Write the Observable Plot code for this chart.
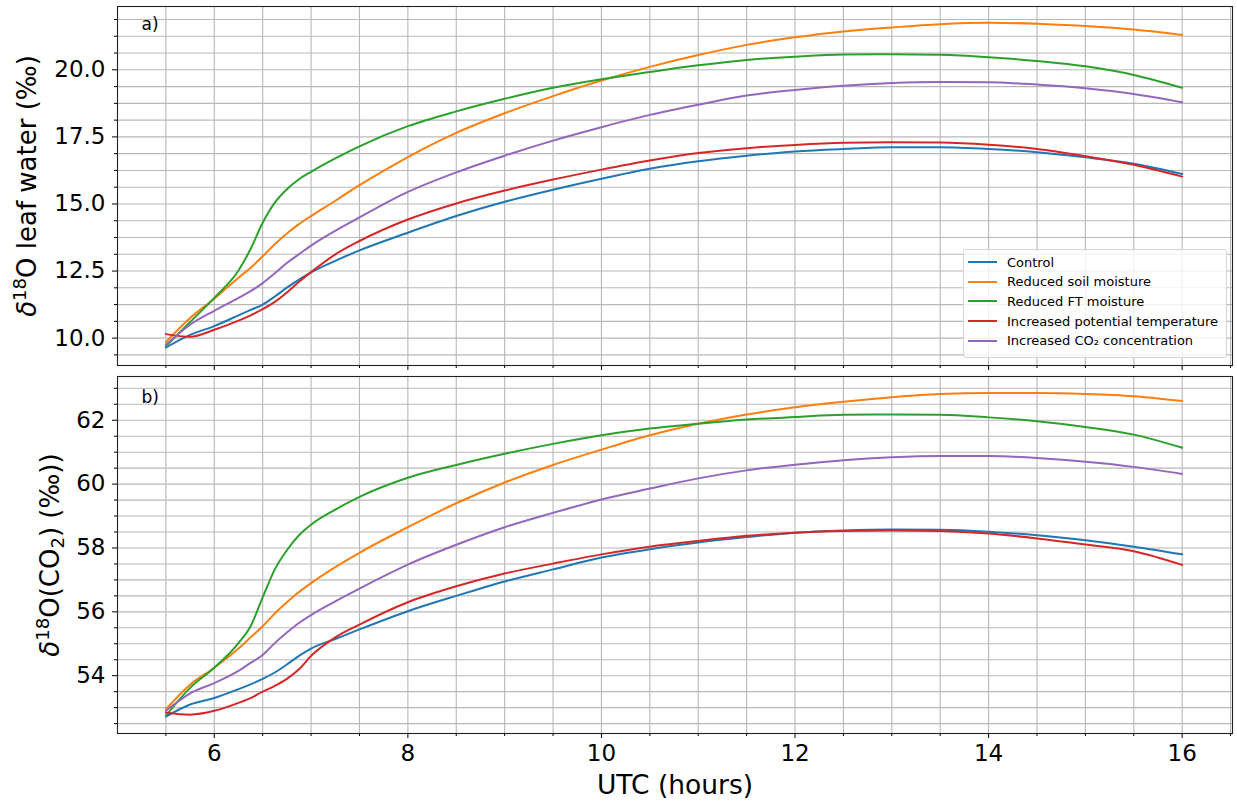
<!DOCTYPE html>
<html><head><meta charset="utf-8">
<script src="https://cdn.jsdelivr.net/npm/d3@7"></script>
<script src="https://cdn.jsdelivr.net/npm/@observablehq/plot@0.6"></script>
<style>
body{margin:0;background:#fff;}
#fig{position:relative;width:1237px;height:802px;font-family:"DejaVu Sans",sans-serif;}
#fig svg{position:absolute;left:0;}
#legend{position:absolute;left:963px;top:249px;width:262px;height:107px;border:1px solid #d5d5d5;border-radius:3px;background:rgba(255,255,255,0.8);box-sizing:content-box;}
.li{position:absolute;left:4px;height:20px;display:flex;align-items:center;font-size:13px;color:#000;white-space:nowrap;}
.li span.sw{display:inline-block;width:29px;height:2px;margin-right:10px;}
</style></head><body><div id="fig"></div>
<script>
// ---- data ----
const seriesNames = ["Control","Reduced soil moisture","Reduced FT moisture","Increased potential temperature","Increased CO\u2082 concentration"];
const seriesColors = ["#1f77b4","#ff7f0e","#2ca02c","#d62728","#9467bd"];
const hours = [5.5,5.75,6,6.25,6.375,6.5,6.625,6.75,6.875,7,7.25,7.5,8,8.5,9,9.5,10,10.5,11,11.5,12,12.5,13,13.5,14,14.5,15,15.5,16];

// panel a: d18O leaf water (permil)
const leafControl = [9.65,10.12,10.45,10.85,11.05,11.25,11.55,11.88,12.18,12.45,12.88,13.27,13.93,14.55,15.08,15.53,15.94,16.31,16.59,16.8,16.96,17.05,17.11,17.11,17.05,16.93,16.74,16.5,16.12];
const leafSoil    = [9.85,10.75,11.47,12.25,12.62,13.05,13.5,13.9,14.25,14.55,15.12,15.7,16.75,17.65,18.38,19.02,19.6,20.11,20.55,20.93,21.21,21.43,21.58,21.7,21.75,21.72,21.63,21.5,21.3];
const leafFT      = [9.7,10.6,11.5,12.52,13.32,14.3,15.05,15.55,15.92,16.2,16.7,17.15,17.9,18.45,18.92,19.33,19.65,19.92,20.17,20.37,20.49,20.57,20.58,20.56,20.47,20.33,20.13,19.81,19.33];
const leafTheta   = [10.15,10.05,10.31,10.65,10.85,11.08,11.35,11.7,12.1,12.46,13.12,13.62,14.42,15.02,15.5,15.91,16.28,16.62,16.9,17.08,17.2,17.28,17.3,17.29,17.21,17.05,16.78,16.46,16.02];
const leafCO2     = [9.75,10.5,11.02,11.5,11.75,12.05,12.42,12.8,13.13,13.45,14.0,14.5,15.45,16.18,16.8,17.36,17.86,18.32,18.7,19.04,19.25,19.41,19.51,19.55,19.54,19.45,19.31,19.1,18.79];

// panel b: d18O(CO2) (permil)
const co2Control = [52.72,53.1,53.3,53.58,53.73,53.9,54.1,54.35,54.62,54.85,55.15,55.45,56.02,56.5,56.95,57.33,57.7,57.96,58.17,58.34,58.48,58.55,58.58,58.57,58.51,58.4,58.24,58.04,57.8];
const co2Soil    = [52.95,53.72,54.25,54.85,55.2,55.55,55.95,56.3,56.62,56.9,57.4,57.85,58.65,59.4,60.05,60.6,61.08,61.53,61.89,62.18,62.41,62.58,62.72,62.82,62.85,62.85,62.82,62.75,62.6];
const co2FT      = [52.75,53.62,54.25,55.02,55.55,56.45,57.33,57.93,58.4,58.73,59.2,59.6,60.2,60.6,60.95,61.26,61.53,61.74,61.89,62.02,62.1,62.17,62.18,62.17,62.09,61.97,61.79,61.55,61.14];
const co2Theta   = [52.85,52.78,52.9,53.15,53.3,53.5,53.68,53.9,54.2,54.62,55.2,55.6,56.3,56.8,57.2,57.51,57.8,58.04,58.22,58.38,58.48,58.53,58.55,58.53,58.45,58.3,58.11,57.9,57.47];
const co2CO2     = [52.9,53.45,53.77,54.15,54.4,54.65,55.02,55.35,55.65,55.9,56.33,56.73,57.48,58.1,58.65,59.1,59.52,59.86,60.18,60.43,60.61,60.75,60.84,60.88,60.88,60.82,60.7,60.54,60.32];

// ticks
const xMajor = [6,8,10,12,14,16];
const xMinor = [5.5,6.5,7,7.5,8.5,9,9.5,10.5,11,11.5,12.5,13,13.5,14.5,15,15.5,16.5];
const yMajorA = [10,12.5,15,17.5,20];
const yMinorA = [9.375,10.625,11.25,11.875,13.125,13.75,14.375,15.625,16.25,16.875,18.125,18.75,19.375,20.625,21.25,21.875];
const yMajorB = [54,56,58,60,62];
const yMinorB = [52.5,53,53.5,54.5,55,55.5,56.5,57,57.5,58.5,59,59.5,60.5,61,61.5,62.5,63];

const labelA = "\u03b418O leaf water (\u2030)";
const labelB = "\u03b418O(CO2) (\u2030))";
const xLabel = "UTC (hours)";

// ---- build ----
function rows(arrs){
  const out=[];
  arrs.forEach((a,i)=>a.forEach((v,j)=>out.push({hour:hours[j],value:v,series:seriesNames[i]})));
  return out;
}
const rowsA = rows([leafControl,leafSoil,leafFT,leafTheta,leafCO2]);
const rowsB = rows([co2Control,co2Soil,co2FT,co2Theta,co2CO2]);
const GRID = "#b8b8b8";
const font = "DejaVu Sans";

function panel({height, top, bottom, yDomain, yMajor, yMinor, yFmt, data, tag, tagDy, label, labelDx, withX}){
  const marks = [
    Plot.ruleX([...xMajor,...xMinor], {stroke:GRID, strokeWidth:1.1}),
    Plot.ruleY([...yMajor,...yMinor], {stroke:GRID, strokeWidth:1.1}),
    Plot.axisX({ticks:xMinor, tickSize:3, tickFormat:()=>"", label:null}),
    Plot.axisX({ticks:xMajor, tickSize:5, tickPadding:6, fontSize:23, tickFormat: withX ? (d=>String(d)) : (()=>""), label:null}),
    Plot.axisY({ticks:yMinor, tickSize:3, tickFormat:()=>"", label:null}),
    Plot.axisY({ticks:yMajor, tickSize:5, tickPadding:7, fontSize:23, tickFormat:yFmt, label:null}),
    Plot.line(data, {x:"hour", y:"value", stroke:"series", strokeWidth:2, curve:"monotone-x"}),
    Plot.frame({stroke:"#222", strokeWidth:1.1}),
    Plot.text([tag], {text:d=>d, frameAnchor:"top-left", dx:24, dy:tagDy, lineAnchor:"top", textAnchor:"start", fontSize:17}),
    Plot.text([label], {text:d=>d, frameAnchor:"left", dx:labelDx, rotate:-90, fontSize:26, lineAnchor:"middle", textAnchor:"middle"})
  ];
  if (withX) marks.push(Plot.text([xLabel], {text:d=>d, frameAnchor:"bottom", dy:52, fontSize:26.5, lineAnchor:"middle", textAnchor:"middle"}));
  return Plot.plot({
    width:1237, height, marginLeft:117, marginRight:5, marginTop:top, marginBottom:bottom,
    style:{fontFamily:font, background:"transparent", color:"#000", overflow:"visible"},
    x:{domain:[5.0,16.52]},
    y:{domain:yDomain},
    color:{domain:seriesNames, range:seriesColors},
    marks
  });
}

const ns = "http://www.w3.org/2000/svg";
function rich(svg, plain, parts){
  for (const t of svg.querySelectorAll("text")) {
    if (t.textContent === plain) {
      while (t.firstChild) t.removeChild(t.firstChild);
      let shift = 0;
      for (const p of parts) {
        const ts = document.createElementNS(ns, "tspan");
        ts.textContent = p.t;
        const target = p.sup ? -10 : p.sub ? 5 : 0;
        if (target !== shift) { ts.setAttribute("dy", target - shift); shift = target; }
        if (p.sup || p.sub) ts.setAttribute("font-size", "18");
        if (p.it) ts.setAttribute("font-style", "italic");
        t.appendChild(ts);
      }
    }
  }
}

const fig = document.getElementById("fig");
const a = panel({height:370, top:6, bottom:5, yDomain:[8.98,22.36], yMajor:yMajorA, yMinor:yMinorA, yFmt:d3.format(".1f"), data:rowsA, tag:"a)", tagDy:11, label:labelA, labelDx:-90, withX:false});
a.style.top = "0px";
fig.appendChild(a);
rich(a, labelA, [{t:"\u03b4",it:true},{t:"18",sup:true},{t:"O leaf water (\u2030)"}]);

const b = panel({height:432, top:6, bottom:69, yDomain:[52.19,63.37], yMajor:yMajorB, yMinor:yMinorB, yFmt:d3.format("d"), data:rowsB, tag:"b)", tagDy:14, label:labelB, labelDx:-67, withX:true});
b.style.top = "370px";
fig.appendChild(b);
rich(b, labelB, [{t:"\u03b4",it:true},{t:"18",sup:true},{t:"O(CO"},{t:"2",sub:true},{t:") (\u2030))"}]);

// legend
const leg = document.createElement("div");
leg.id = "legend";
seriesNames.forEach((n,i)=>{
  const r = document.createElement("div");
  r.className = "li";
  r.style.top = (2 + i*19.7) + "px";
  const sw = document.createElement("span");
  sw.className = "sw"; sw.style.background = seriesColors[i];
  const tx = document.createElement("span");
  tx.textContent = n;
  r.appendChild(sw); r.appendChild(tx);
  leg.appendChild(r);
});
fig.appendChild(leg);
</script></body></html>
